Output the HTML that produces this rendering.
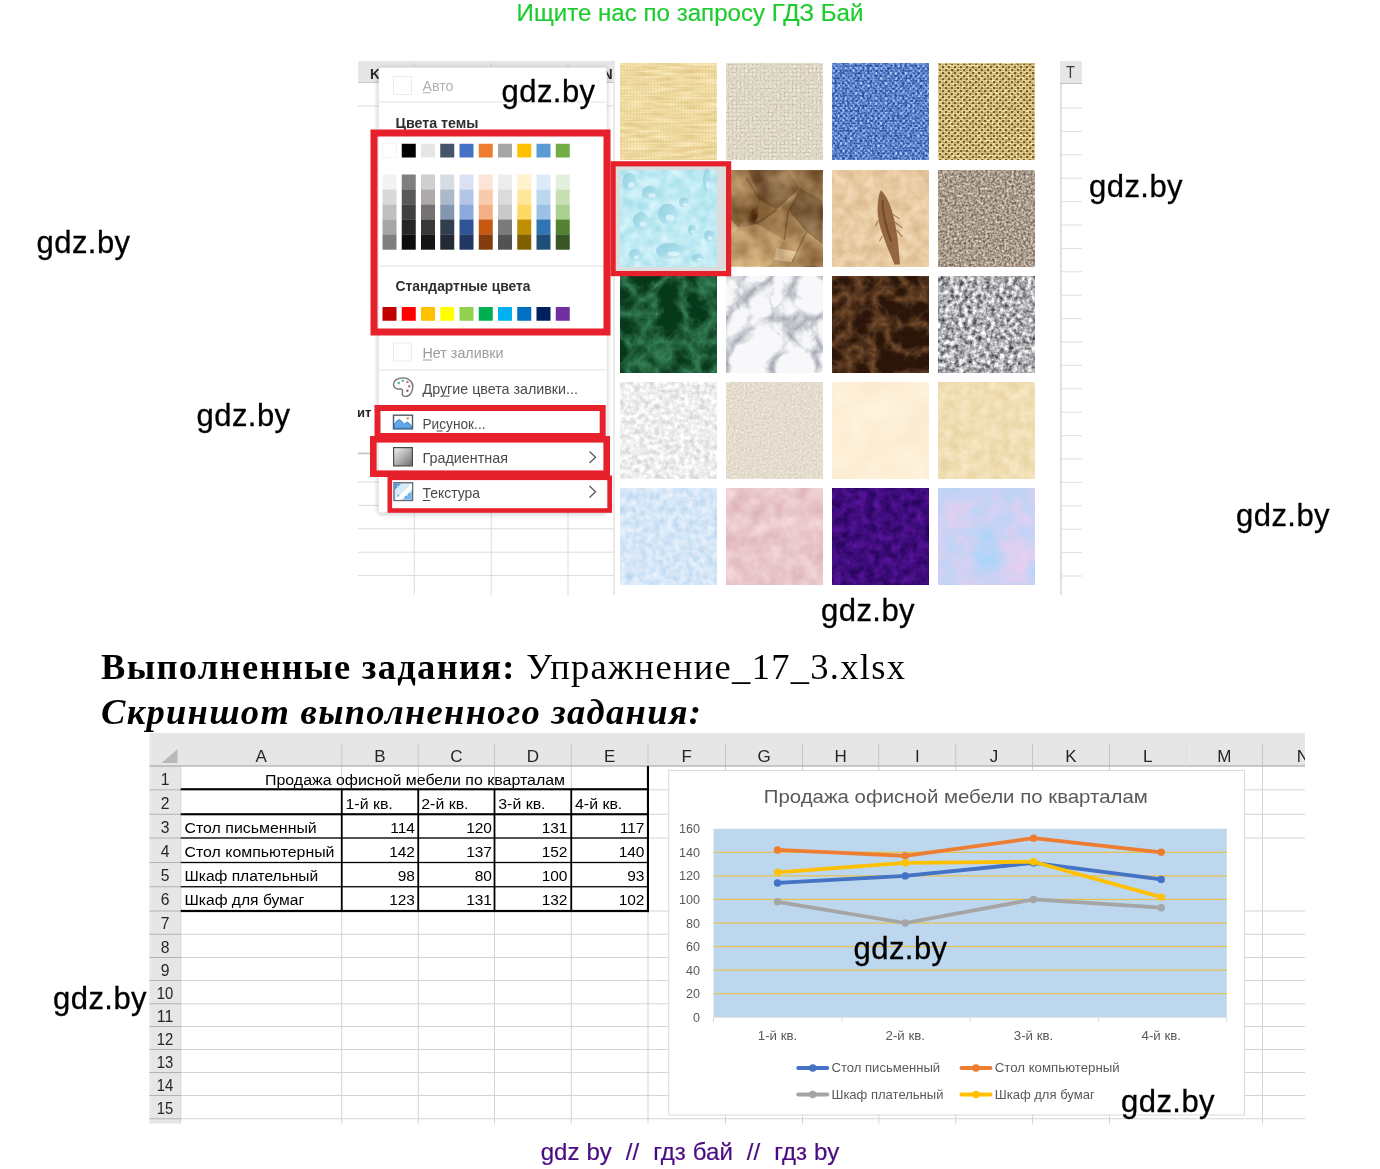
<!DOCTYPE html>
<html lang="ru">
<head>
<meta charset="utf-8">
<title>ГДЗ Упражнение 17.3</title>
<style>
html,body{margin:0;padding:0;background:#fff;}
body{width:1380px;height:1169px;position:relative;overflow:hidden;font-family:"Liberation Sans",sans-serif;}
.abs{position:absolute;white-space:nowrap;}
.top{left:0;width:1380px;text-align:center;color:#1fcc2f;font-size:24.1px;line-height:28px;top:-1px;-webkit-text-stroke:0.2px #1fcc2f;}
.wm{font-size:31px;line-height:36px;color:#000;letter-spacing:0.45px;-webkit-text-stroke:0.3px #000;}
h2.t1{margin:0;font-family:"Liberation Serif",serif;font-weight:normal;font-size:36.5px;line-height:44px;left:101px;top:645px;color:#000;letter-spacing:1.3px;}
h2.t2{margin:0;font-family:"Liberation Serif",serif;font-weight:bold;font-style:italic;font-size:36.5px;line-height:44px;left:101px;top:690px;color:#000;letter-spacing:1.3px;}
.foot{left:0;width:1380px;top:1137px;text-align:center;color:#4b0c82;font-size:24px;line-height:30px;word-spacing:0.35px;-webkit-text-stroke:0.2px #4b0c82;}
svg{position:absolute;display:block;}
svg text{font-family:"Liberation Sans",sans-serif;}
</style>
</head>
<body>
<div class="abs top">Ищите нас по запросу ГДЗ Бай</div>

<svg id="img1" style="left:358px;top:61px" width="724" height="534" viewBox="358 61 724 534">
<defs>
<linearGradient id="gr" x1="0" y1="0" x2="1" y2="1"><stop offset="0" stop-color="#f4f4f4"/><stop offset="1" stop-color="#6e6e6e"/></linearGradient>
<filter id="sh" x="-10%" y="-10%" width="120%" height="120%"><feGaussianBlur stdDeviation="2.2"/></filter>
</defs>
<rect x="358" y="61" width="724" height="534" fill="#fff"/>
<rect x="358" y="61" width="256" height="21.5" fill="#e6e6e6"/>
<rect x="358" y="82" width="256" height="1" fill="#c8c8c8"/>
<rect x="413.75" y="63" width="1" height="19" fill="#d0d0d0"/>
<rect x="490.75" y="63" width="1" height="19" fill="#d0d0d0"/>
<rect x="567.5" y="63" width="1" height="19" fill="#d0d0d0"/>
<text x="370" y="78.500" font-size="14" font-weight="bold" fill="#2a2a2a">K</text>
<text x="602.500" y="78.500" font-size="14" font-weight="bold" fill="#2a2a2a">N</text>
<rect x="358" y="105.50" width="256" height="1" fill="#dcdcdc"/>
<rect x="358" y="481.50" width="256" height="1" fill="#dcdcdc"/>
<rect x="358" y="504.90" width="256" height="1" fill="#dcdcdc"/>
<rect x="358" y="528.30" width="256" height="1" fill="#dcdcdc"/>
<rect x="358" y="551.70" width="256" height="1" fill="#dcdcdc"/>
<rect x="358" y="575.10" width="256" height="1" fill="#dcdcdc"/>
<rect x="358" y="452.5" width="14" height="1.8" fill="#c6c6c6"/>
<rect x="413.75" y="83" width="1" height="512" fill="#dcdcdc"/>
<rect x="490.75" y="83" width="1" height="512" fill="#dcdcdc"/>
<rect x="567.5" y="83" width="1" height="512" fill="#dcdcdc"/>
<text x="357" y="417" font-size="13" font-weight="bold" fill="#222">ит</text>
<rect x="613.5" y="61" width="447" height="534" fill="#fff"/>
<rect x="613.5" y="61" width="1" height="534" fill="#d6d6d6"/>
<rect x="1060" y="61" width="1.800" height="534" fill="#dedede"/>
<rect x="1060" y="61" width="22" height="22.500" fill="#e6e6e6"/>
<rect x="1060" y="83" width="22" height="1" fill="#c4c4c4"/>
<text x="1070.300" y="78.300" font-size="17" fill="#3a3a3a" text-anchor="middle" textLength="8.800" lengthAdjust="spacingAndGlyphs">T</text>
<rect x="1061.5" y="107.50" width="20.5" height="1" fill="#dedede"/>
<rect x="1061.5" y="130.90" width="20.5" height="1" fill="#dedede"/>
<rect x="1061.5" y="154.30" width="20.5" height="1" fill="#dedede"/>
<rect x="1061.5" y="177.70" width="20.5" height="1" fill="#dedede"/>
<rect x="1061.5" y="201.10" width="20.5" height="1" fill="#dedede"/>
<rect x="1061.5" y="224.50" width="20.5" height="1" fill="#dedede"/>
<rect x="1061.5" y="247.90" width="20.5" height="1" fill="#dedede"/>
<rect x="1061.5" y="271.30" width="20.5" height="1" fill="#dedede"/>
<rect x="1061.5" y="294.70" width="20.5" height="1" fill="#dedede"/>
<rect x="1061.5" y="318.10" width="20.5" height="1" fill="#dedede"/>
<rect x="1061.5" y="341.50" width="20.5" height="1" fill="#dedede"/>
<rect x="1061.5" y="364.90" width="20.5" height="1" fill="#dedede"/>
<rect x="1061.5" y="388.30" width="20.5" height="1" fill="#dedede"/>
<rect x="1061.5" y="411.70" width="20.5" height="1" fill="#dedede"/>
<rect x="1061.5" y="435.10" width="20.5" height="1" fill="#dedede"/>
<rect x="1061.5" y="458.50" width="20.5" height="1" fill="#dedede"/>
<rect x="1061.5" y="481.90" width="20.5" height="1" fill="#dedede"/>
<rect x="1061.5" y="505.30" width="20.5" height="1" fill="#dedede"/>
<rect x="1061.5" y="528.70" width="20.5" height="1" fill="#dedede"/>
<rect x="1061.5" y="552.10" width="20.5" height="1" fill="#dedede"/>
<rect x="1061.5" y="575.50" width="20.5" height="1" fill="#dedede"/>
<rect x="377" y="67" width="231" height="448" rx="5" fill="#000" opacity="0.16" filter="url(#sh)"/>
<rect x="378.75" y="67.5" width="228" height="445" rx="2.5" fill="#fff"/>
<rect x="393.5" y="76.5" width="18" height="18" fill="#fff" stroke="#ebebeb"/>
<text x="422.5" y="90.800" font-size="14.5" fill="#b0b0b0" textLength="31" lengthAdjust="spacingAndGlyphs">Авто</text>
<rect x="422.8" y="92.3" width="8" height="1" fill="#b0b0b0"/>
<rect x="379" y="101.5" width="227" height="1" fill="#e3e3e3"/>
<text x="395.5" y="128" font-size="14.200" font-weight="bold" fill="#2e2e2e" textLength="83" lengthAdjust="spacingAndGlyphs">Цвета темы</text>
<rect x="382.50" y="143.75" width="14" height="13.75" fill="#FFFFFF" stroke="#ececec" stroke-width="0.6"/>
<rect x="382.50" y="174.50" width="14" height="15.2" fill="#F2F2F2"/>
<rect x="382.50" y="189.50" width="14" height="15.2" fill="#D9D9D9"/>
<rect x="382.50" y="204.50" width="14" height="15.2" fill="#BFBFBF"/>
<rect x="382.50" y="219.50" width="14" height="15.2" fill="#A6A6A6"/>
<rect x="382.50" y="234.50" width="14" height="15.2" fill="#7F7F7F"/>
<rect x="382.50" y="307" width="14" height="13.75" fill="#C00000"/>
<rect x="401.75" y="143.75" width="14" height="13.75" fill="#000000"/>
<rect x="401.75" y="174.50" width="14" height="15.2" fill="#7F7F7F"/>
<rect x="401.75" y="189.50" width="14" height="15.2" fill="#595959"/>
<rect x="401.75" y="204.50" width="14" height="15.2" fill="#404040"/>
<rect x="401.75" y="219.50" width="14" height="15.2" fill="#262626"/>
<rect x="401.75" y="234.50" width="14" height="15.2" fill="#0D0D0D"/>
<rect x="401.75" y="307" width="14" height="13.75" fill="#FF0000"/>
<rect x="421.00" y="143.75" width="14" height="13.75" fill="#E7E6E6"/>
<rect x="421.00" y="174.50" width="14" height="15.2" fill="#D0CECE"/>
<rect x="421.00" y="189.50" width="14" height="15.2" fill="#AEAAAA"/>
<rect x="421.00" y="204.50" width="14" height="15.2" fill="#757171"/>
<rect x="421.00" y="219.50" width="14" height="15.2" fill="#3A3838"/>
<rect x="421.00" y="234.50" width="14" height="15.2" fill="#161616"/>
<rect x="421.00" y="307" width="14" height="13.75" fill="#FFC000"/>
<rect x="440.25" y="143.75" width="14" height="13.75" fill="#44546A"/>
<rect x="440.25" y="174.50" width="14" height="15.2" fill="#D6DCE4"/>
<rect x="440.25" y="189.50" width="14" height="15.2" fill="#ACB9CA"/>
<rect x="440.25" y="204.50" width="14" height="15.2" fill="#8497B0"/>
<rect x="440.25" y="219.50" width="14" height="15.2" fill="#333F4F"/>
<rect x="440.25" y="234.50" width="14" height="15.2" fill="#222B35"/>
<rect x="440.25" y="307" width="14" height="13.75" fill="#FFFF00"/>
<rect x="459.50" y="143.75" width="14" height="13.75" fill="#4472C4"/>
<rect x="459.50" y="174.50" width="14" height="15.2" fill="#D9E1F2"/>
<rect x="459.50" y="189.50" width="14" height="15.2" fill="#B4C6E7"/>
<rect x="459.50" y="204.50" width="14" height="15.2" fill="#8EA9DB"/>
<rect x="459.50" y="219.50" width="14" height="15.2" fill="#305496"/>
<rect x="459.50" y="234.50" width="14" height="15.2" fill="#203764"/>
<rect x="459.50" y="307" width="14" height="13.75" fill="#92D050"/>
<rect x="478.75" y="143.75" width="14" height="13.75" fill="#ED7D31"/>
<rect x="478.75" y="174.50" width="14" height="15.2" fill="#FCE4D6"/>
<rect x="478.75" y="189.50" width="14" height="15.2" fill="#F8CBAD"/>
<rect x="478.75" y="204.50" width="14" height="15.2" fill="#F4B084"/>
<rect x="478.75" y="219.50" width="14" height="15.2" fill="#C65911"/>
<rect x="478.75" y="234.50" width="14" height="15.2" fill="#833C0C"/>
<rect x="478.75" y="307" width="14" height="13.75" fill="#00B050"/>
<rect x="498.00" y="143.75" width="14" height="13.75" fill="#A5A5A5"/>
<rect x="498.00" y="174.50" width="14" height="15.2" fill="#EDEDED"/>
<rect x="498.00" y="189.50" width="14" height="15.2" fill="#DBDBDB"/>
<rect x="498.00" y="204.50" width="14" height="15.2" fill="#C9C9C9"/>
<rect x="498.00" y="219.50" width="14" height="15.2" fill="#7B7B7B"/>
<rect x="498.00" y="234.50" width="14" height="15.2" fill="#525252"/>
<rect x="498.00" y="307" width="14" height="13.75" fill="#00B0F0"/>
<rect x="517.25" y="143.75" width="14" height="13.75" fill="#FFC000"/>
<rect x="517.25" y="174.50" width="14" height="15.2" fill="#FFF2CC"/>
<rect x="517.25" y="189.50" width="14" height="15.2" fill="#FFE699"/>
<rect x="517.25" y="204.50" width="14" height="15.2" fill="#FFD966"/>
<rect x="517.25" y="219.50" width="14" height="15.2" fill="#BF8F00"/>
<rect x="517.25" y="234.50" width="14" height="15.2" fill="#806000"/>
<rect x="517.25" y="307" width="14" height="13.75" fill="#0070C0"/>
<rect x="536.50" y="143.75" width="14" height="13.75" fill="#5B9BD5"/>
<rect x="536.50" y="174.50" width="14" height="15.2" fill="#DDEBF7"/>
<rect x="536.50" y="189.50" width="14" height="15.2" fill="#BDD7EE"/>
<rect x="536.50" y="204.50" width="14" height="15.2" fill="#9BC2E6"/>
<rect x="536.50" y="219.50" width="14" height="15.2" fill="#2F75B5"/>
<rect x="536.50" y="234.50" width="14" height="15.2" fill="#1F4E78"/>
<rect x="536.50" y="307" width="14" height="13.75" fill="#002060"/>
<rect x="555.75" y="143.75" width="14" height="13.75" fill="#70AD47"/>
<rect x="555.75" y="174.50" width="14" height="15.2" fill="#E2EFDA"/>
<rect x="555.75" y="189.50" width="14" height="15.2" fill="#C6E0B4"/>
<rect x="555.75" y="204.50" width="14" height="15.2" fill="#A9D08E"/>
<rect x="555.75" y="219.50" width="14" height="15.2" fill="#548235"/>
<rect x="555.75" y="234.50" width="14" height="15.2" fill="#375623"/>
<rect x="555.75" y="307" width="14" height="13.75" fill="#7030A0"/>
<rect x="379" y="265.5" width="227" height="1" fill="#e3e3e3"/>
<text x="395.5" y="291" font-size="14.200" font-weight="bold" fill="#2e2e2e" textLength="135" lengthAdjust="spacingAndGlyphs">Стандартные цвета</text>
<rect x="393.5" y="343" width="18" height="18" fill="#fff" stroke="#ebebeb"/>
<text x="422.5" y="357.700" font-size="14.800" fill="#9c9c9c" textLength="81" lengthAdjust="spacingAndGlyphs">Нет заливки</text>
<rect x="422.8" y="359.500" width="9" height="1" fill="#9c9c9c"/>
<rect x="379" y="369.5" width="227" height="1" fill="#e3e3e3"/>
<text x="422.5" y="393.800" font-size="14.800" fill="#4a4a4a" textLength="155.5" lengthAdjust="spacingAndGlyphs">Другие цвета заливки...</text>
<rect x="443.5" y="395.600" width="6" height="1" fill="#4a4a4a"/>
<g transform="translate(392.6,377)"><path d="M10.500 0.900C15.500 0.900 20.200 4.200 20.200 9.500C20.200 14.500 17.500 19.400 13 19.400C10 19.400 9 17.500 9.800 15.200C10.500 13.200 9.500 11.800 7.200 12C3.500 12.400 0.900 10.500 0.900 7.200C0.900 3.500 5 0.900 10.500 0.900z" fill="#fdfdfd" stroke="#747474" stroke-width="1.400"/><circle cx="6.200" cy="6" r="1.200" fill="#3fb7a4"/><circle cx="10.200" cy="3.800" r="1.200" fill="#55b98a"/><circle cx="14.800" cy="5" r="1.200" fill="#e0709c"/><circle cx="16.600" cy="9.200" r="1.200" fill="#d95f8e"/><circle cx="14.800" cy="13.800" r="1.200" fill="#8a5a7a"/></g>
<text x="422.5" y="428.500" font-size="14.800" fill="#4a4a4a" textLength="63" lengthAdjust="spacingAndGlyphs">Рисунок...</text>
<rect x="436.5" y="430.5" width="6" height="1" fill="#505050"/>
<g transform="translate(392.800,414.500)"><rect x="0.700" y="0.700" width="19" height="13.700" fill="#fbfdff" stroke="#4d5a68" stroke-width="1.400"/><path d="M1.400 13.700V9.200C3 7.500 4.800 5.600 6.600 5.200C8.600 6 10.200 8.600 11.800 9.600C12.800 8.800 13.600 8 14.600 7.800C16.400 8.600 17.800 10.600 19 11.800V13.700z" fill="#62a8ea" stroke="#2b6cb8" stroke-width="0.900"/><circle cx="15" cy="3.800" r="1.200" fill="#e8955a"/></g>
<text x="422.5" y="463.200" font-size="14.800" fill="#4a4a4a" textLength="85.5" lengthAdjust="spacingAndGlyphs">Градиентная</text>
<rect x="393.600" y="447.600" width="18.800" height="18.300" fill="url(#gr)" stroke="#4a4a4a" stroke-width="1.2"/>
<path d="M589.500 451.500l6 5.700-6 5.800" fill="none" stroke="#606060" stroke-width="1.4"/>
<text x="422.5" y="498" font-size="14.800" fill="#4a4a4a" textLength="57.5" lengthAdjust="spacingAndGlyphs">Текстура</text>
<rect x="422.8" y="500" width="7.5" height="1" fill="#4a4a4a"/>
<g transform="translate(393.300,482)"><rect x="0.700" y="0.700" width="18.600" height="17.800" fill="#d6eaf9" stroke="#6a6f75" stroke-width="1.400"/><path d="M1.400 1.400h6.500l-6.500 6.500z" fill="#4a9ae0"/><path d="M1.400 17.800L18.600 1.400v6L7.500 17.800z" fill="#ffffff"/><path d="M9.500 17.800L18.600 9.200v8.600z" fill="#7db9ea"/><circle cx="5" cy="13.500" r="0.900" fill="#3fa9c8"/><circle cx="12.500" cy="14.800" r="0.900" fill="#3f8fd8"/><circle cx="15.500" cy="12.300" r="0.900" fill="#3fa9c8"/><circle cx="4.200" cy="4" r="0.800" fill="#bfe0f8"/></g>
<path d="M589.500 486l6 5.700-6 5.800" fill="none" stroke="#606060" stroke-width="1.4"/>
<defs>
<filter id="t00" x="0" y="0" width="100%" height="100%" color-interpolation-filters="sRGB"><feTurbulence type="fractalNoise" baseFrequency="0.04 0.3" numOctaves="3" seed="1"/><feColorMatrix type="matrix" values="0.138 0.000 0.000 0.000 0.876  0.201 0.000 0.000 0.000 0.766  0.326 0.000 0.000 0.000 0.488  0 0 0 0 1"/></filter>
<filter id="t10" x="0" y="0" width="100%" height="100%" color-interpolation-filters="sRGB"><feTurbulence type="fractalNoise" baseFrequency="0.5" numOctaves="2" seed="2"/><feColorMatrix type="matrix" values="0.282 0.000 0.000 0.000 0.749  0.296 0.000 0.000 0.000 0.715  0.339 0.000 0.000 0.000 0.627  0 0 0 0 1"/></filter>
<filter id="t20" x="0" y="0" width="100%" height="100%" color-interpolation-filters="sRGB"><feTurbulence type="fractalNoise" baseFrequency="0.4" numOctaves="2" seed="3"/><feColorMatrix type="matrix" values="0.979 0.000 0.000 0.000 -0.058  0.951 0.000 0.000 0.000 0.095  0.744 0.000 0.000 0.000 0.473  0 0 0 0 1"/></filter>
<filter id="t30" x="0" y="0" width="100%" height="100%" color-interpolation-filters="sRGB"><feTurbulence type="fractalNoise" baseFrequency="0.4" numOctaves="2" seed="4"/><feColorMatrix type="matrix" values="0.475 0.000 0.000 0.000 0.655  0.578 0.000 0.000 0.000 0.517  0.673 0.000 0.000 0.000 0.224  0 0 0 0 1"/></filter>
<filter id="t01" x="0" y="0" width="100%" height="100%" color-interpolation-filters="sRGB"><feTurbulence type="fractalNoise" baseFrequency="0.09" numOctaves="2" seed="5"/><feColorMatrix type="matrix" values="0.314 0.000 0.000 0.000 0.592  0.138 0.000 0.000 0.000 0.849  0.088 0.000 0.000 0.000 0.909  0 0 0 0 1"/></filter>
<filter id="t11" x="0" y="0" width="100%" height="100%" color-interpolation-filters="sRGB"><feTurbulence type="fractalNoise" baseFrequency="0.035" numOctaves="3" seed="6"/><feColorMatrix type="matrix" values="1.073 0.000 0.000 0.000 0.142  1.073 0.000 0.000 0.000 0.009  0.941 0.000 0.000 0.000 -0.094  0 0 0 0 1"/></filter>
<filter id="t21" x="0" y="0" width="100%" height="100%" color-interpolation-filters="sRGB"><feTurbulence type="fractalNoise" baseFrequency="0.09" numOctaves="3" seed="7"/><feColorMatrix type="matrix" values="0.151 0.000 0.000 0.000 0.835  0.188 0.000 0.000 0.000 0.702  0.238 0.000 0.000 0.000 0.520  0 0 0 0 1"/></filter>
<filter id="t31" x="0" y="0" width="100%" height="100%" color-interpolation-filters="sRGB"><feTurbulence type="fractalNoise" baseFrequency="0.42" numOctaves="2" seed="8"/><feColorMatrix type="matrix" values="0.845 0.000 0.000 0.000 0.240  0.820 0.000 0.000 0.000 0.196  0.759 0.000 0.000 0.000 0.169  0 0 0 0 1"/></filter>
<filter id="t02" x="0" y="0" width="100%" height="100%" color-interpolation-filters="sRGB"><feTurbulence type="turbulence" baseFrequency="0.035" numOctaves="4" seed="9"/><feColorMatrix type="matrix" values="-0.400 0 0 0 0.227  -0.620 0 0 0 0.529  -0.518 0 0 0 0.361  0 0 0 0 1"/><feComponentTransfer><feFuncR type="table" tableValues="0.027 0.027 0.050 0.075 0.100 0.125 0.150 0.175 0.200 0.225 0.227 0.227 0.227 0.227 0.227 0.227 0.227 0.227 0.227 0.227 0.227 0.227 0.227 0.227 0.227 0.227 0.227 0.227 0.227 0.227 0.227 0.227 0.227 0.227 0.227 0.227 0.227 0.227 0.227 0.227 0.227"/><feFuncG type="table" tableValues="0.220 0.220 0.220 0.220 0.220 0.220 0.220 0.220 0.220 0.225 0.250 0.275 0.300 0.325 0.350 0.375 0.400 0.425 0.450 0.475 0.500 0.525 0.529 0.529 0.529 0.529 0.529 0.529 0.529 0.529 0.529 0.529 0.529 0.529 0.529 0.529 0.529 0.529 0.529 0.529 0.529"/><feFuncB type="table" tableValues="0.102 0.102 0.102 0.102 0.102 0.125 0.150 0.175 0.200 0.225 0.250 0.275 0.300 0.325 0.350 0.361 0.361 0.361 0.361 0.361 0.361 0.361 0.361 0.361 0.361 0.361 0.361 0.361 0.361 0.361 0.361 0.361 0.361 0.361 0.361 0.361 0.361 0.361 0.361 0.361 0.361"/></feComponentTransfer></filter>
<filter id="t12" x="0" y="0" width="100%" height="100%" color-interpolation-filters="sRGB"><feTurbulence type="turbulence" baseFrequency="0.022" numOctaves="4" seed="10"/><feColorMatrix type="matrix" values="1.129 0 0 0 0.620  1.079 0 0 0 0.639  0.979 0 0 0 0.678  0 0 0 0 1"/><feComponentTransfer><feFuncR type="table" tableValues="0.620 0.620 0.620 0.620 0.620 0.620 0.620 0.620 0.620 0.620 0.620 0.620 0.620 0.620 0.620 0.620 0.620 0.620 0.620 0.620 0.620 0.620 0.620 0.620 0.620 0.625 0.650 0.675 0.700 0.725 0.750 0.775 0.800 0.825 0.850 0.875 0.900 0.925 0.950 0.973 0.973"/><feFuncG type="table" tableValues="0.639 0.639 0.639 0.639 0.639 0.639 0.639 0.639 0.639 0.639 0.639 0.639 0.639 0.639 0.639 0.639 0.639 0.639 0.639 0.639 0.639 0.639 0.639 0.639 0.639 0.639 0.650 0.675 0.700 0.725 0.750 0.775 0.800 0.825 0.850 0.875 0.900 0.925 0.950 0.975 0.976"/><feFuncB type="table" tableValues="0.678 0.678 0.678 0.678 0.678 0.678 0.678 0.678 0.678 0.678 0.678 0.678 0.678 0.678 0.678 0.678 0.678 0.678 0.678 0.678 0.678 0.678 0.678 0.678 0.678 0.678 0.678 0.678 0.700 0.725 0.750 0.775 0.800 0.825 0.850 0.875 0.900 0.925 0.950 0.975 0.984"/></feComponentTransfer></filter>
<filter id="t22" x="0" y="0" width="100%" height="100%" color-interpolation-filters="sRGB"><feTurbulence type="turbulence" baseFrequency="0.04" numOctaves="4" seed="11"/><feColorMatrix type="matrix" values="-0.675 0 0 0 0.490  -0.494 0 0 0 0.322  -0.313 0 0 0 0.188  0 0 0 0 1"/><feComponentTransfer><feFuncR type="table" tableValues="0.169 0.169 0.169 0.169 0.169 0.169 0.169 0.175 0.200 0.225 0.250 0.275 0.300 0.325 0.350 0.375 0.400 0.425 0.450 0.475 0.490 0.490 0.490 0.490 0.490 0.490 0.490 0.490 0.490 0.490 0.490 0.490 0.490 0.490 0.490 0.490 0.490 0.490 0.490 0.490 0.490"/><feFuncG type="table" tableValues="0.086 0.086 0.086 0.086 0.100 0.125 0.150 0.175 0.200 0.225 0.250 0.275 0.300 0.322 0.322 0.322 0.322 0.322 0.322 0.322 0.322 0.322 0.322 0.322 0.322 0.322 0.322 0.322 0.322 0.322 0.322 0.322 0.322 0.322 0.322 0.322 0.322 0.322 0.322 0.322 0.322"/><feFuncB type="table" tableValues="0.039 0.039 0.050 0.075 0.100 0.125 0.150 0.175 0.188 0.188 0.188 0.188 0.188 0.188 0.188 0.188 0.188 0.188 0.188 0.188 0.188 0.188 0.188 0.188 0.188 0.188 0.188 0.188 0.188 0.188 0.188 0.188 0.188 0.188 0.188 0.188 0.188 0.188 0.188 0.188 0.188"/></feComponentTransfer></filter>
<filter id="t32" x="0" y="0" width="100%" height="100%" color-interpolation-filters="sRGB"><feTurbulence type="fractalNoise" baseFrequency="0.22" numOctaves="3" seed="12"/><feColorMatrix type="matrix" values="1.326 0.000 0.000 0.000 0.021  1.309 0.000 0.000 0.000 0.034  1.260 0.000 0.000 0.000 0.070  0 0 0 0 1"/></filter>
<filter id="t03" x="0" y="0" width="100%" height="100%" color-interpolation-filters="sRGB"><feTurbulence type="fractalNoise" baseFrequency="0.2" numOctaves="3" seed="13"/><feColorMatrix type="matrix" values="0.329 0.000 0.000 0.000 0.767  0.329 0.000 0.000 0.000 0.767  0.329 0.000 0.000 0.000 0.767  0 0 0 0 1"/></filter>
<filter id="t13" x="0" y="0" width="100%" height="100%" color-interpolation-filters="sRGB"><feTurbulence type="fractalNoise" baseFrequency="0.5" numOctaves="2" seed="14"/><feColorMatrix type="matrix" values="0.198 0.000 0.000 0.000 0.795  0.212 0.000 0.000 0.000 0.757  0.240 0.000 0.000 0.000 0.684  0 0 0 0 1"/></filter>
<filter id="t23" x="0" y="0" width="100%" height="100%" color-interpolation-filters="sRGB"><feTurbulence type="fractalNoise" baseFrequency="0.03" numOctaves="2" seed="15"/><feColorMatrix type="matrix" values="0.024 0.000 0.000 0.000 0.980  0.071 0.000 0.000 0.000 0.902  0.118 0.000 0.000 0.000 0.780  0 0 0 0 1"/></filter>
<filter id="t33" x="0" y="0" width="100%" height="100%" color-interpolation-filters="sRGB"><feTurbulence type="fractalNoise" baseFrequency="0.1" numOctaves="4" seed="16"/><feColorMatrix type="matrix" values="0.088 0.000 0.000 0.000 0.897  0.132 0.000 0.000 0.000 0.805  0.220 0.000 0.000 0.000 0.596  0 0 0 0 1"/></filter>
<filter id="t04" x="0" y="0" width="100%" height="100%" color-interpolation-filters="sRGB"><feTurbulence type="fractalNoise" baseFrequency="0.15" numOctaves="3" seed="17"/><feColorMatrix type="matrix" values="0.282 0.000 0.000 0.000 0.694  0.157 0.000 0.000 0.000 0.824  0.063 0.000 0.000 0.000 0.937  0 0 0 0 1"/></filter>
<filter id="t14" x="0" y="0" width="100%" height="100%" color-interpolation-filters="sRGB"><feTurbulence type="fractalNoise" baseFrequency="0.06" numOctaves="3" seed="18"/><feColorMatrix type="matrix" values="0.141 0.000 0.000 0.000 0.843  0.226 0.000 0.000 0.000 0.664  0.198 0.000 0.000 0.000 0.689  0 0 0 0 1"/></filter>
<filter id="t24" x="0" y="0" width="100%" height="100%" color-interpolation-filters="sRGB"><feTurbulence type="fractalNoise" baseFrequency="0.12" numOctaves="4" seed="19"/><feColorMatrix type="matrix" values="0.328 0.000 0.000 0.000 0.083  0.104 0.000 0.000 0.000 -0.005  0.414 0.000 0.000 0.000 0.279  0 0 0 0 1"/></filter>
<filter id="t34" x="0" y="0" width="100%" height="100%" color-interpolation-filters="sRGB"><feTurbulence type="fractalNoise" baseFrequency="0.035" numOctaves="4" seed="20"/><feColorMatrix type="matrix" values="0.388 0.000 0.000 0.000 0.608  -0.043 0.000 0.000 0.000 0.843  -0.060 0.000 0.000 0.000 0.985  0 0 0 0 1"/></filter>
<pattern id="wv1" width="4" height="4" patternUnits="userSpaceOnUse"><path d="M0 0H4M0 0V4" stroke="#8f8467" stroke-width="1" opacity="0.28"/></pattern>
<pattern id="wv2" width="5" height="5" patternUnits="userSpaceOnUse"><rect x="0" y="0" width="2.4" height="1.8" fill="#1c3f8e" opacity="0.6"/><rect x="2.5" y="2.5" width="2.4" height="1.8" fill="#1c3f8e" opacity="0.6"/></pattern>
<pattern id="wv3" width="6" height="6" patternUnits="userSpaceOnUse"><rect x="0" y="0" width="2.2" height="2.2" fill="#5e4312" opacity="0.8"/><rect x="3" y="3" width="2.2" height="2.2" fill="#5e4312" opacity="0.8"/><path d="M0 4.500H2.500M3.500 1.500H6" stroke="#8a6a28" stroke-width="0.8" opacity="0.5"/></pattern>
<pattern id="wv0" width="3" height="3" patternUnits="userSpaceOnUse"><path d="M0 0H3M0 0V3" stroke="#c9a95a" stroke-width="0.8" opacity="0.3"/></pattern>
<linearGradient id="drop" x1="0" y1="0" x2="1" y2="1"><stop offset="0" stop-color="#7fc4d6"/><stop offset="0.6" stop-color="#a8dcea"/><stop offset="1" stop-color="#d2f1f8"/></linearGradient>
<filter id="bl" x="-10%" y="-10%" width="120%" height="120%"><feGaussianBlur stdDeviation="0.7"/></filter>
</defs>
<rect x="613" y="163.5" width="115.5" height="110" fill="#dcdcdc"/>
<rect x="620.00" y="63.75" width="96.25" height="96.25" filter="url(#t00)"/>
<rect x="726.25" y="63.75" width="96.25" height="96.25" filter="url(#t10)"/>
<rect x="832.50" y="63.75" width="96.25" height="96.25" filter="url(#t20)"/>
<rect x="938.75" y="63.75" width="96.25" height="96.25" filter="url(#t30)"/>
<rect x="620.00" y="170.00" width="96.25" height="96.25" filter="url(#t01)"/>
<rect x="726.25" y="170.00" width="96.25" height="96.25" filter="url(#t11)"/>
<rect x="832.50" y="170.00" width="96.25" height="96.25" filter="url(#t21)"/>
<rect x="938.75" y="170.00" width="96.25" height="96.25" filter="url(#t31)"/>
<rect x="620.00" y="276.25" width="96.25" height="96.25" filter="url(#t02)"/>
<rect x="726.25" y="276.25" width="96.25" height="96.25" filter="url(#t12)"/>
<rect x="832.50" y="276.25" width="96.25" height="96.25" filter="url(#t22)"/>
<rect x="938.75" y="276.25" width="96.25" height="96.25" filter="url(#t32)"/>
<rect x="620.00" y="382.50" width="96.25" height="96.25" filter="url(#t03)"/>
<rect x="726.25" y="382.50" width="96.25" height="96.25" filter="url(#t13)"/>
<rect x="832.50" y="382.50" width="96.25" height="96.25" filter="url(#t23)"/>
<rect x="938.75" y="382.50" width="96.25" height="96.25" filter="url(#t33)"/>
<rect x="620.00" y="488.75" width="96.25" height="96.25" filter="url(#t04)"/>
<rect x="726.25" y="488.75" width="96.25" height="96.25" filter="url(#t14)"/>
<rect x="832.50" y="488.75" width="96.25" height="96.25" filter="url(#t24)"/>
<rect x="938.75" y="488.75" width="96.25" height="96.25" filter="url(#t34)"/>
<rect x="620.00" y="63.75" width="96.25" height="96.25" fill="url(#wv0)"/>
<rect x="726.25" y="63.75" width="96.25" height="96.25" fill="url(#wv1)"/>
<rect x="832.50" y="63.75" width="96.25" height="96.25" fill="url(#wv2)"/>
<rect x="938.75" y="63.75" width="96.25" height="96.25" fill="url(#wv3)"/>
<g transform="translate(832.50,170.00)" filter="url(#bl)"><path d="M48.500 20C44 28 44 45 48 58C51 68 56 80 62 94.500L67.500 94.500C66.500 84 66 72 64 62C62 48 58 30 48.500 20z" fill="#7d4c26" opacity="0.8"/><path d="M50 30C50 42 53 56 59 72" stroke="#5e3518" stroke-width="2.200" fill="none" opacity="0.55"/><path d="M60 44l7 5M62 52l8 6M64 60l6 7M46 50l-3 6M50 66l-3 5" stroke="#8d5a30" stroke-width="1.300" fill="none" opacity="0.65"/></g>
<g transform="translate(726.25,170.00)" opacity="0.5"><path d="M0 0H22L34 30 12 58 0 44z" fill="#8a643a"/><path d="M22 0H62L74 18 50 40 34 30z" fill="#5a3c20"/><path d="M62 0H96V30L74 18z" fill="#7a5630"/><path d="M74 18L96 30V74L80 62 62 40z" fill="#4e331a"/><path d="M34 30L50 40 62 40 80 62 58 70 30 54z" fill="#9a7244"/><path d="M12 58L30 54 58 70 44 96H0V70z" fill="#caa470"/><path d="M58 70L80 62 96 74V96H44z" fill="#b08858"/><path d="M50 78L72 82 66 92 48 90z" fill="#ecd4a8"/><path d="M0 44L12 58 0 70z" fill="#dcbc8c"/><path d="M20 8L34 30M50 40L30 54M62 40L58 70M80 62L66 92" stroke="#3e2812" stroke-width="1.600" fill="none" opacity="0.7"/></g>
<g transform="translate(620.00,170.00)" filter="url(#bl)"><ellipse cx="9.4" cy="11.7" rx="7" ry="9" fill="url(#drop)" opacity="0.75"/><ellipse cx="11.2" cy="14.8" rx="3.1" ry="2.7" fill="#e8fafd" opacity="0.7"/><ellipse cx="30" cy="23" rx="8" ry="7" fill="url(#drop)" opacity="0.75"/><ellipse cx="32.0" cy="25.4" rx="3.6" ry="2.1" fill="#e8fafd" opacity="0.7"/><ellipse cx="47.7" cy="44" rx="9.5" ry="10.5" fill="url(#drop)" opacity="0.75"/><ellipse cx="50.1" cy="47.7" rx="4.3" ry="3.1" fill="#e8fafd" opacity="0.7"/><ellipse cx="21" cy="51" rx="8" ry="9" fill="url(#drop)" opacity="0.75"/><ellipse cx="23.0" cy="54.1" rx="3.6" ry="2.7" fill="#e8fafd" opacity="0.7"/><ellipse cx="50" cy="81" rx="14" ry="8" fill="url(#drop)" opacity="0.75"/><ellipse cx="53.5" cy="83.8" rx="6.3" ry="2.4" fill="#e8fafd" opacity="0.7"/><ellipse cx="87" cy="10.5" rx="4" ry="12" fill="url(#drop)" opacity="0.75"/><ellipse cx="88.0" cy="14.7" rx="1.8" ry="3.6" fill="#e8fafd" opacity="0.7"/><ellipse cx="64" cy="32.6" rx="5" ry="5" fill="url(#drop)" opacity="0.75"/><ellipse cx="65.2" cy="34.4" rx="2.2" ry="1.5" fill="#e8fafd" opacity="0.7"/><ellipse cx="15" cy="85" rx="6" ry="6" fill="url(#drop)" opacity="0.75"/><ellipse cx="16.5" cy="87.1" rx="2.7" ry="1.8" fill="#e8fafd" opacity="0.7"/><ellipse cx="89" cy="66" rx="5" ry="6" fill="url(#drop)" opacity="0.75"/><ellipse cx="90.2" cy="68.1" rx="2.2" ry="1.8" fill="#e8fafd" opacity="0.7"/><ellipse cx="72" cy="60" rx="4" ry="5" fill="url(#drop)" opacity="0.75"/><ellipse cx="73.0" cy="61.8" rx="1.8" ry="1.5" fill="#e8fafd" opacity="0.7"/><ellipse cx="78" cy="88" rx="6" ry="4" fill="url(#drop)" opacity="0.75"/><ellipse cx="79.5" cy="89.4" rx="2.7" ry="1.2" fill="#e8fafd" opacity="0.7"/></g>
<rect x="374.00" y="133.00" width="233.00" height="199.00" fill="none" stroke="#e6212b" stroke-width="7"/>
<rect x="613.10" y="163.80" width="115.50" height="109.80" fill="none" stroke="#e6212b" stroke-width="5.2"/>
<rect x="377.50" y="408.00" width="225.20" height="28.00" fill="none" stroke="#e6212b" stroke-width="6"/>
<rect x="373.30" y="439.30" width="233.40" height="34.40" fill="none" stroke="#e6212b" stroke-width="6.6"/>
<rect x="389.80" y="477.80" width="219.90" height="32.70" fill="none" stroke="#e6212b" stroke-width="4.6"/>
</svg>
<h2 class="abs t1"><b>Выполненные задания:</b> Упражнение_17_3.xlsx</h2>
<h2 class="abs t2">Скриншот выполненного задания:</h2>
<svg id="img2" style="left:149px;top:733px" width="1156" height="391" viewBox="149 733 1156 391">
<rect x="149.5" y="733" width="1155.5" height="390.5999999999999" fill="#fff"/>
<rect x="341.25" y="766" width="1" height="357.60" fill="#d4d4d4"/>
<rect x="417.75" y="766" width="1" height="357.60" fill="#d4d4d4"/>
<rect x="494.00" y="766" width="1" height="357.60" fill="#d4d4d4"/>
<rect x="570.75" y="766" width="1" height="357.60" fill="#d4d4d4"/>
<rect x="647.50" y="766" width="1" height="357.60" fill="#d4d4d4"/>
<rect x="725.00" y="766" width="1" height="357.60" fill="#d4d4d4"/>
<rect x="802.00" y="766" width="1" height="357.60" fill="#d4d4d4"/>
<rect x="878.25" y="766" width="1" height="357.60" fill="#d4d4d4"/>
<rect x="955.25" y="766" width="1" height="357.60" fill="#d4d4d4"/>
<rect x="1032.00" y="766" width="1" height="357.60" fill="#d4d4d4"/>
<rect x="1109.00" y="766" width="1" height="357.60" fill="#d4d4d4"/>
<rect x="1262.00" y="766" width="1" height="357.60" fill="#d4d4d4"/>
<rect x="180.75" y="789.30" width="1124.25" height="1" fill="#d4d4d4"/>
<rect x="180.75" y="813.75" width="1124.25" height="1" fill="#d4d4d4"/>
<rect x="180.75" y="837.50" width="1124.25" height="1" fill="#d4d4d4"/>
<rect x="180.75" y="910.50" width="1124.25" height="1" fill="#d4d4d4"/>
<rect x="180.75" y="933.75" width="1124.25" height="1" fill="#d4d4d4"/>
<rect x="180.75" y="957.00" width="1124.25" height="1" fill="#d4d4d4"/>
<rect x="180.75" y="980.00" width="1124.25" height="1" fill="#d4d4d4"/>
<rect x="180.75" y="1003.25" width="1124.25" height="1" fill="#d4d4d4"/>
<rect x="180.75" y="1026.00" width="1124.25" height="1" fill="#d4d4d4"/>
<rect x="180.75" y="1049.00" width="1124.25" height="1" fill="#d4d4d4"/>
<rect x="180.75" y="1072.00" width="1124.25" height="1" fill="#d4d4d4"/>
<rect x="180.75" y="1095.00" width="1124.25" height="1" fill="#d4d4d4"/>
<rect x="180.75" y="1118.25" width="1124.25" height="1" fill="#d4d4d4"/>
<rect x="149.5" y="733" width="1155.5" height="33" fill="#e6e6e6"/>
<rect x="149.5" y="766" width="31.25" height="357.60" fill="#e6e6e6"/>
<rect x="149.5" y="765.5" width="1155.5" height="1" fill="#9c9c9c"/>
<rect x="180.25" y="766" width="1" height="357.60" fill="#d2d2d2"/>
<rect x="341.25" y="744" width="1" height="22" fill="#c6c6c6"/>
<rect x="417.75" y="744" width="1" height="22" fill="#c6c6c6"/>
<rect x="494.00" y="744" width="1" height="22" fill="#c6c6c6"/>
<rect x="570.75" y="744" width="1" height="22" fill="#c6c6c6"/>
<rect x="647.50" y="744" width="1" height="22" fill="#c6c6c6"/>
<rect x="725.00" y="744" width="1" height="22" fill="#c6c6c6"/>
<rect x="802.00" y="744" width="1" height="22" fill="#c6c6c6"/>
<rect x="878.25" y="744" width="1" height="22" fill="#c6c6c6"/>
<rect x="955.25" y="744" width="1" height="22" fill="#c6c6c6"/>
<rect x="1032.00" y="744" width="1" height="22" fill="#c6c6c6"/>
<rect x="1109.00" y="744" width="1" height="22" fill="#c6c6c6"/>
<rect x="1185.50" y="744" width="1" height="22" fill="#dcdcdc"/>
<rect x="1262.00" y="744" width="1" height="22" fill="#c6c6c6"/>
<rect x="149.5" y="789.30" width="31.25" height="1" fill="#b2b2b2"/>
<rect x="149.5" y="813.75" width="31.25" height="1" fill="#b2b2b2"/>
<rect x="149.5" y="837.50" width="31.25" height="1" fill="#b2b2b2"/>
<rect x="149.5" y="862.00" width="31.25" height="1" fill="#b2b2b2"/>
<rect x="149.5" y="886.25" width="31.25" height="1" fill="#b2b2b2"/>
<rect x="149.5" y="910.50" width="31.25" height="1" fill="#b2b2b2"/>
<rect x="149.5" y="933.75" width="31.25" height="1" fill="#b2b2b2"/>
<rect x="149.5" y="957.00" width="31.25" height="1" fill="#b2b2b2"/>
<rect x="149.5" y="980.00" width="31.25" height="1" fill="#b2b2b2"/>
<rect x="149.5" y="1003.25" width="31.25" height="1" fill="#b2b2b2"/>
<rect x="149.5" y="1026.00" width="31.25" height="1" fill="#b2b2b2"/>
<rect x="149.5" y="1049.00" width="31.25" height="1" fill="#b2b2b2"/>
<rect x="149.5" y="1072.00" width="31.25" height="1" fill="#b2b2b2"/>
<rect x="149.5" y="1095.00" width="31.25" height="1" fill="#b2b2b2"/>
<rect x="149.5" y="1118.25" width="31.25" height="1" fill="#b2b2b2"/>
<path d="M161.500 763H177.500V749.200z" fill="#b9b9b9"/>
<text x="261.25" y="761.800" font-size="17" fill="#262626" text-anchor="middle">A</text>
<text x="380.00" y="761.800" font-size="17" fill="#262626" text-anchor="middle">B</text>
<text x="456.38" y="761.800" font-size="17" fill="#262626" text-anchor="middle">C</text>
<text x="532.88" y="761.800" font-size="17" fill="#262626" text-anchor="middle">D</text>
<text x="609.62" y="761.800" font-size="17" fill="#262626" text-anchor="middle">E</text>
<text x="686.75" y="761.800" font-size="17" fill="#262626" text-anchor="middle">F</text>
<text x="764.00" y="761.800" font-size="17" fill="#262626" text-anchor="middle">G</text>
<text x="840.62" y="761.800" font-size="17" fill="#262626" text-anchor="middle">H</text>
<text x="917.25" y="761.800" font-size="17" fill="#262626" text-anchor="middle">I</text>
<text x="994.12" y="761.800" font-size="17" fill="#262626" text-anchor="middle">J</text>
<text x="1071.00" y="761.800" font-size="17" fill="#262626" text-anchor="middle">K</text>
<text x="1147.75" y="761.800" font-size="17" fill="#262626" text-anchor="middle">L</text>
<text x="1224.25" y="761.800" font-size="17" fill="#262626" text-anchor="middle">M</text>
<text x="1303.00" y="761.800" font-size="17" fill="#262626" text-anchor="middle">N</text>
<text x="165" y="784.50" font-size="15.7" fill="#262626" text-anchor="middle">1</text>
<text x="165" y="809.25" font-size="15.7" fill="#262626" text-anchor="middle">2</text>
<text x="165" y="833.00" font-size="15.7" fill="#262626" text-anchor="middle">3</text>
<text x="165" y="857.25" font-size="15.7" fill="#262626" text-anchor="middle">4</text>
<text x="165" y="881.00" font-size="15.7" fill="#262626" text-anchor="middle">5</text>
<text x="165" y="905.00" font-size="15.7" fill="#262626" text-anchor="middle">6</text>
<text x="165" y="929.25" font-size="15.7" fill="#262626" text-anchor="middle">7</text>
<text x="165" y="952.50" font-size="15.7" fill="#262626" text-anchor="middle">8</text>
<text x="165" y="975.50" font-size="15.7" fill="#262626" text-anchor="middle">9</text>
<text x="165" y="998.75" font-size="15.7" fill="#262626" text-anchor="middle" textLength="16.500" lengthAdjust="spacingAndGlyphs">10</text>
<text x="165" y="1021.50" font-size="15.7" fill="#262626" text-anchor="middle" textLength="16.500" lengthAdjust="spacingAndGlyphs">11</text>
<text x="165" y="1044.50" font-size="15.7" fill="#262626" text-anchor="middle" textLength="16.500" lengthAdjust="spacingAndGlyphs">12</text>
<text x="165" y="1067.50" font-size="15.7" fill="#262626" text-anchor="middle" textLength="16.500" lengthAdjust="spacingAndGlyphs">13</text>
<text x="165" y="1090.50" font-size="15.7" fill="#262626" text-anchor="middle" textLength="16.500" lengthAdjust="spacingAndGlyphs">14</text>
<text x="165" y="1113.75" font-size="15.7" fill="#262626" text-anchor="middle" textLength="16.500" lengthAdjust="spacingAndGlyphs">15</text>
<text x="265" y="785" font-size="15.5" fill="#000" textLength="300" lengthAdjust="spacingAndGlyphs">Продажа офисной мебели по кварталам</text>
<text x="345.5" y="809.25" font-size="15.5" fill="#000" textLength="47.25" lengthAdjust="spacingAndGlyphs">1-й кв.</text>
<text x="421.25" y="809.25" font-size="15.5" fill="#000" textLength="47.25" lengthAdjust="spacingAndGlyphs">2-й кв.</text>
<text x="498.25" y="809.25" font-size="15.5" fill="#000" textLength="47.25" lengthAdjust="spacingAndGlyphs">3-й кв.</text>
<text x="575" y="809.25" font-size="15.5" fill="#000" textLength="47.25" lengthAdjust="spacingAndGlyphs">4-й кв.</text>
<text x="184.5" y="833" font-size="15.5" fill="#000" textLength="132.25" lengthAdjust="spacingAndGlyphs">Стол письменный</text>
<text x="415" y="833" font-size="15.5" fill="#000" text-anchor="end">114</text>
<text x="492" y="833" font-size="15.5" fill="#000" text-anchor="end">120</text>
<text x="567.5" y="833" font-size="15.5" fill="#000" text-anchor="end">131</text>
<text x="644.5" y="833" font-size="15.5" fill="#000" text-anchor="end">117</text>
<text x="184.5" y="857.25" font-size="15.5" fill="#000" textLength="150" lengthAdjust="spacingAndGlyphs">Стол компьютерный</text>
<text x="415" y="857.25" font-size="15.5" fill="#000" text-anchor="end">142</text>
<text x="492" y="857.25" font-size="15.5" fill="#000" text-anchor="end">137</text>
<text x="567.5" y="857.25" font-size="15.5" fill="#000" text-anchor="end">152</text>
<text x="644.5" y="857.25" font-size="15.5" fill="#000" text-anchor="end">140</text>
<text x="184.5" y="881" font-size="15.5" fill="#000" textLength="133.75" lengthAdjust="spacingAndGlyphs">Шкаф плательный</text>
<text x="415" y="881" font-size="15.5" fill="#000" text-anchor="end">98</text>
<text x="492" y="881" font-size="15.5" fill="#000" text-anchor="end">80</text>
<text x="567.5" y="881" font-size="15.5" fill="#000" text-anchor="end">100</text>
<text x="644.5" y="881" font-size="15.5" fill="#000" text-anchor="end">93</text>
<text x="184.5" y="905" font-size="15.5" fill="#000" textLength="119.75" lengthAdjust="spacingAndGlyphs">Шкаф для бумаг</text>
<text x="415" y="905" font-size="15.5" fill="#000" text-anchor="end">123</text>
<text x="492" y="905" font-size="15.5" fill="#000" text-anchor="end">131</text>
<text x="567.5" y="905" font-size="15.5" fill="#000" text-anchor="end">132</text>
<text x="644.5" y="905" font-size="15.5" fill="#000" text-anchor="end">102</text>
<rect x="180.75" y="788.2" width="468.2" height="2.1" fill="#000"/>
<rect x="180.75" y="813.2" width="468.2" height="2.1" fill="#000"/>
<rect x="180.75" y="837.35" width="468.2" height="1.3" fill="#000"/>
<rect x="180.75" y="861.85" width="468.2" height="1.3" fill="#000"/>
<rect x="180.75" y="886.10" width="468.2" height="1.3" fill="#000"/>
<rect x="180.75" y="909.9" width="468.2" height="2.2" fill="#000"/>
<rect x="340.85" y="789.25" width="1.8" height="121.75" fill="#000"/>
<rect x="417.35" y="789.25" width="1.8" height="121.75" fill="#000"/>
<rect x="493.60" y="789.25" width="1.8" height="121.75" fill="#000"/>
<rect x="570.35" y="789.25" width="1.8" height="121.75" fill="#000"/>
<rect x="646.9" y="766" width="2.1" height="146.1" fill="#000"/>
<rect x="668.75" y="770.5" width="575.75" height="344.5" fill="#fff" stroke="#d9d9d9" stroke-width="1"/>
<text x="763.75" y="802.5" font-size="18.6" fill="#595959" textLength="384" lengthAdjust="spacingAndGlyphs">Продажа офисной мебели по кварталам</text>
<rect x="713.5" y="828.75" width="513.25" height="188.5" fill="#bdd7ee"/>
<text x="700" y="1021.75" font-size="12.6" fill="#595959" text-anchor="end">0</text>
<rect x="713.5" y="993.09" width="513.25" height="1.2" fill="#e8c148"/>
<text x="700" y="998.19" font-size="12.6" fill="#595959" text-anchor="end">20</text>
<rect x="713.5" y="969.52" width="513.25" height="1.2" fill="#e8c148"/>
<text x="700" y="974.62" font-size="12.6" fill="#595959" text-anchor="end">40</text>
<rect x="713.5" y="945.96" width="513.25" height="1.2" fill="#e8c148"/>
<text x="700" y="951.06" font-size="12.6" fill="#595959" text-anchor="end">60</text>
<rect x="713.5" y="922.40" width="513.25" height="1.2" fill="#e8c148"/>
<text x="700" y="927.5" font-size="12.6" fill="#595959" text-anchor="end">80</text>
<rect x="713.5" y="898.84" width="513.25" height="1.2" fill="#e8c148"/>
<text x="700" y="903.94" font-size="12.6" fill="#595959" text-anchor="end">100</text>
<rect x="713.5" y="875.27" width="513.25" height="1.2" fill="#e8c148"/>
<text x="700" y="880.38" font-size="12.6" fill="#595959" text-anchor="end">120</text>
<rect x="713.5" y="851.71" width="513.25" height="1.2" fill="#e8c148"/>
<text x="700" y="856.81" font-size="12.6" fill="#595959" text-anchor="end">140</text>
<text x="700" y="833.25" font-size="12.6" fill="#595959" text-anchor="end">160</text>
<rect x="713.5" y="1016.75" width="513.25" height="1" fill="#d9d9d9"/>
<rect x="713.00" y="1017.25" width="1" height="4.500" fill="#d9d9d9"/>
<rect x="841.31" y="1017.25" width="1" height="4.500" fill="#d9d9d9"/>
<rect x="969.62" y="1017.25" width="1" height="4.500" fill="#d9d9d9"/>
<rect x="1097.94" y="1017.25" width="1" height="4.500" fill="#d9d9d9"/>
<rect x="1226.25" y="1017.25" width="1" height="4.500" fill="#d9d9d9"/>
<text x="777.5" y="1040" font-size="12.6" fill="#595959" text-anchor="middle" textLength="39.5" lengthAdjust="spacingAndGlyphs">1-й кв.</text>
<text x="905.25" y="1040" font-size="12.6" fill="#595959" text-anchor="middle" textLength="39.5" lengthAdjust="spacingAndGlyphs">2-й кв.</text>
<text x="1033.5" y="1040" font-size="12.6" fill="#595959" text-anchor="middle" textLength="39.5" lengthAdjust="spacingAndGlyphs">3-й кв.</text>
<text x="1161.25" y="1040" font-size="12.6" fill="#595959" text-anchor="middle" textLength="39.5" lengthAdjust="spacingAndGlyphs">4-й кв.</text>
<polyline points="777.50,882.94 905.25,875.88 1033.50,862.92 1161.25,879.41" fill="none" stroke="#4472c4" stroke-width="3.8" stroke-linejoin="round" stroke-linecap="round"/>
<circle cx="777.50" cy="882.94" r="3.7" fill="#4472c4"/>
<circle cx="905.25" cy="875.88" r="3.7" fill="#4472c4"/>
<circle cx="1033.50" cy="862.92" r="3.7" fill="#4472c4"/>
<circle cx="1161.25" cy="879.41" r="3.7" fill="#4472c4"/>
<polyline points="777.50,849.96 905.25,855.85 1033.50,838.17 1161.25,852.31" fill="none" stroke="#ed7d31" stroke-width="3.8" stroke-linejoin="round" stroke-linecap="round"/>
<circle cx="777.50" cy="849.96" r="3.7" fill="#ed7d31"/>
<circle cx="905.25" cy="855.85" r="3.7" fill="#ed7d31"/>
<circle cx="1033.50" cy="838.17" r="3.7" fill="#ed7d31"/>
<circle cx="1161.25" cy="852.31" r="3.7" fill="#ed7d31"/>
<polyline points="777.50,901.79 905.25,923.00 1033.50,899.44 1161.25,907.68" fill="none" stroke="#a5a5a5" stroke-width="3.8" stroke-linejoin="round" stroke-linecap="round"/>
<circle cx="777.50" cy="901.79" r="3.7" fill="#a5a5a5"/>
<circle cx="905.25" cy="923.00" r="3.7" fill="#a5a5a5"/>
<circle cx="1033.50" cy="899.44" r="3.7" fill="#a5a5a5"/>
<circle cx="1161.25" cy="907.68" r="3.7" fill="#a5a5a5"/>
<polyline points="777.50,872.34 905.25,862.92 1033.50,861.74 1161.25,897.08" fill="none" stroke="#ffc000" stroke-width="3.8" stroke-linejoin="round" stroke-linecap="round"/>
<circle cx="777.50" cy="872.34" r="3.7" fill="#ffc000"/>
<circle cx="905.25" cy="862.92" r="3.7" fill="#ffc000"/>
<circle cx="1033.50" cy="861.74" r="3.7" fill="#ffc000"/>
<circle cx="1161.25" cy="897.08" r="3.7" fill="#ffc000"/>
<rect x="796.25" y="1066.1" width="33" height="3.800" rx="1.9" fill="#4472c4"/>
<circle cx="812.75" cy="1068" r="3.7" fill="#4472c4"/>
<text x="831.45" y="1072.3" font-size="12.8" fill="#595959" textLength="108.75" lengthAdjust="spacingAndGlyphs">Стол письменный</text>
<rect x="959.5" y="1066.1" width="33" height="3.800" rx="1.9" fill="#ed7d31"/>
<circle cx="976.0" cy="1068" r="3.7" fill="#ed7d31"/>
<text x="994.7" y="1072.3" font-size="12.8" fill="#595959" textLength="125" lengthAdjust="spacingAndGlyphs">Стол компьютерный</text>
<rect x="796.25" y="1092.6" width="33" height="3.800" rx="1.9" fill="#a5a5a5"/>
<circle cx="812.75" cy="1094.5" r="3.7" fill="#a5a5a5"/>
<text x="831.45" y="1098.8" font-size="12.8" fill="#595959" textLength="112" lengthAdjust="spacingAndGlyphs">Шкаф плательный</text>
<rect x="959.5" y="1092.6" width="33" height="3.800" rx="1.9" fill="#ffc000"/>
<circle cx="976.0" cy="1094.5" r="3.7" fill="#ffc000"/>
<text x="994.7" y="1098.8" font-size="12.8" fill="#595959" textLength="100" lengthAdjust="spacingAndGlyphs">Шкаф для бумаг</text>
</svg>
<div class="abs wm" style="left:501.5px;top:74.0px">gdz.by</div>
<div class="abs wm" style="left:1089.0px;top:169.0px">gdz.by</div>
<div class="abs wm" style="left:36.5px;top:224.8px">gdz.by</div>
<div class="abs wm" style="left:196.5px;top:397.8px">gdz.by</div>
<div class="abs wm" style="left:1236.0px;top:497.5px">gdz.by</div>
<div class="abs wm" style="left:821.0px;top:592.5px">gdz.by</div>
<div class="abs wm" style="left:853.5px;top:930.5px">gdz.by</div>
<div class="abs wm" style="left:53.0px;top:981.1px">gdz.by</div>
<div class="abs wm" style="left:1121.0px;top:1084.0px">gdz.by</div>
<div class="abs foot">gdz by &nbsp;// &nbsp;гдз бай &nbsp;// &nbsp;гдз by</div>
</body>
</html>
